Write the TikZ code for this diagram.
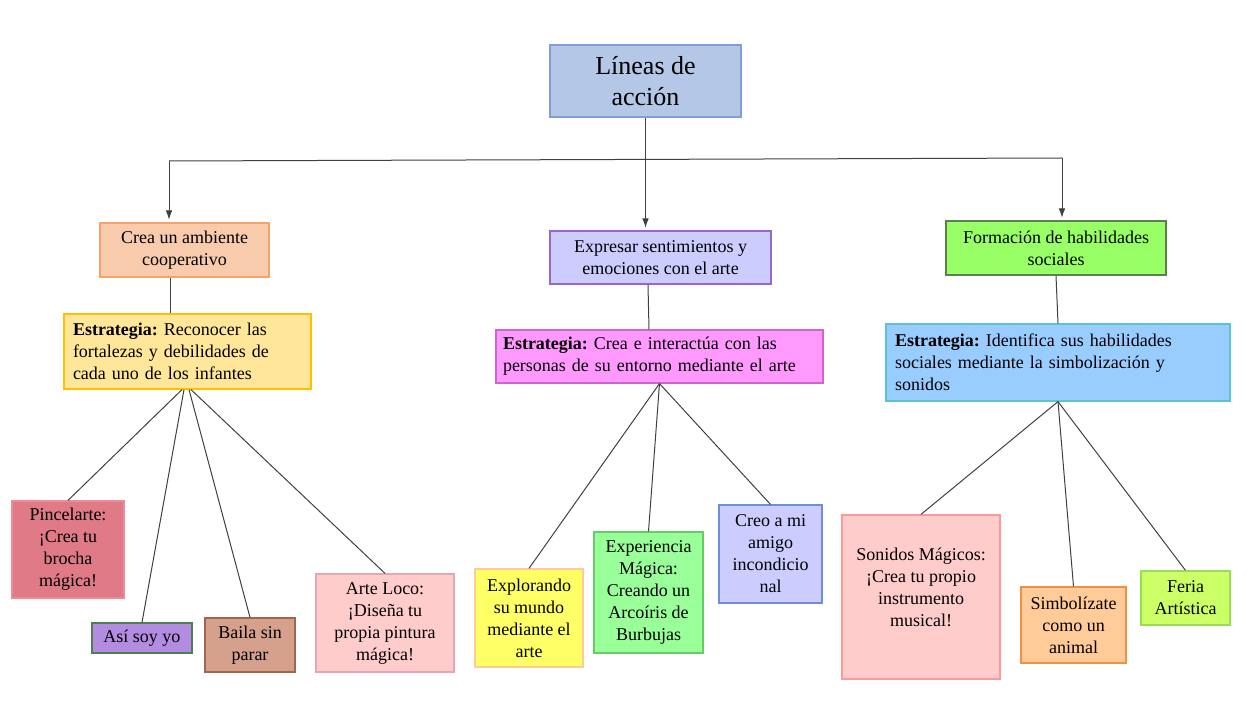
\documentclass[tikz,border=0pt]{standalone}
\usepackage{fontspec}
\setmainfont{Liberation Serif}
\usetikzlibrary{arrows.meta,calc}
\definecolor{titlefill}{HTML}{B4C7E7}\definecolor{titledraw}{HTML}{7F9FD6}
\definecolor{creafill}{HTML}{F8CBAD}\definecolor{creadraw}{HTML}{F4A36A}
\definecolor{exprfill}{HTML}{CCCCFF}\definecolor{exprdraw}{HTML}{9966CC}
\definecolor{formfill}{HTML}{99FF66}\definecolor{formdraw}{HTML}{5F7F4F}
\definecolor{saafill}{HTML}{FFE699}\definecolor{saadraw}{HTML}{FFC000}
\definecolor{sbbfill}{HTML}{FF99FF}\definecolor{sbbdraw}{HTML}{CC66CC}
\definecolor{sccfill}{HTML}{99CCFF}\definecolor{sccdraw}{HTML}{5FC2D0}
\definecolor{pinfill}{HTML}{E07A87}\definecolor{pindraw}{HTML}{F08A95}
\definecolor{asifill}{HTML}{B38BE0}\definecolor{asidraw}{HTML}{4F7F4F}
\definecolor{baifill}{HTML}{D5A18C}\definecolor{baidraw}{HTML}{A0674B}
\definecolor{artfill}{HTML}{FFCCCC}\definecolor{artdraw}{HTML}{E6A4B4}
\definecolor{expfill}{HTML}{FFFF66}\definecolor{expdraw}{HTML}{FFCC99}
\definecolor{exifill}{HTML}{99FF99}\definecolor{exidraw}{HTML}{66CC66}
\definecolor{creofill}{HTML}{CCCCFF}\definecolor{creodraw}{HTML}{6C8EDB}
\definecolor{sonfill}{HTML}{FFCCCC}\definecolor{sondraw}{HTML}{FF9999}
\definecolor{simfill}{HTML}{FFCC99}\definecolor{simdraw}{HTML}{F09040}
\definecolor{ferfill}{HTML}{CCFF66}\definecolor{ferdraw}{HTML}{99DD55}
\definecolor{linecol}{HTML}{404040}
\tikzset{
  bx/.style={draw, line width=0.9pt, inner sep=0pt, align=center,
    font=\fontsize{13.5pt}{16.5pt}\selectfont\frenchspacing, text=black},
  sbx/.style={bx, align=left},
  sz/.style 2 args={minimum width=#1*0.75pt, minimum height=#2*0.75pt},
  ln/.style={draw=linecol, line width=0.75pt},
  arr/.style={ln, -{Latex[length=7pt,width=5pt]}, shorten >=2pt}
}
\begin{document}
\begin{tikzpicture}[x=0.75pt,y=-0.75pt]
\useasboundingbox (0,0) rectangle (1247,702);
% title
\node[bx, fill=titlefill, draw=titledraw, sz={191}{72},
  font=\fontsize{19.5pt}{23.25pt}\selectfont] (title) at (645.5,81) {Líneas de\\acción};
% level 1
\node[bx, fill=creafill, draw=creadraw, sz={169}{54}] (crea) at (184.5,250) {Crea un ambiente\\cooperativo};
\node[bx, fill=exprfill, draw=exprdraw, sz={221}{53}] (expr) at (660.5,257.5) {Expresar sentimientos y\\emociones con el arte};
\node[bx, fill=formfill, draw=formdraw, sz={220}{54}] (form) at (1056,248) {Formación de habilidades\\sociales};
% strategies
\node[sbx, fill=saafill, draw=saadraw, sz={247}{75}, text width=229*0.75pt] (saa) at (187.5,351.5)
  {\textbf{Estrategia:} Reconocer las\\fortalezas y debilidades de\\cada uno de los infantes};
\node[sbx, fill=sbbfill, draw=sbbdraw, sz={327}{53}, text width=313*0.75pt] (sbb) at (659.5,356.5)
  {\textbf{Estrategia:} Crea e interactúa con las\\personas de su entorno mediante el arte};
\node[sbx, fill=sccfill, draw=sccdraw, sz={344}{77}, text width=326*0.75pt] (scc) at (1058,362.5)
  {\textbf{Estrategia:} Identifica sus habilidades\\sociales mediante la simbolización y\\sonidos};
% leaves left
\node[bx, fill=pinfill, draw=pindraw, sz={112}{97}] (pin) at (68,549.5) {Pincelarte:\\¡Crea tu\\brocha\\mágica!};
\node[bx, fill=asifill, draw=asidraw, sz={100}{30}] (asi) at (142,638) {Así soy yo};
\node[bx, fill=baifill, draw=baidraw, sz={90}{54}] (bai) at (250,645) {Baila sin\\parar};
\node[bx, fill=artfill, draw=artdraw, sz={138}{98}] (art) at (385,623) {Arte Loco:\\¡Diseña tu\\propia pintura\\mágica!};
% leaves middle
\node[bx, fill=expfill, draw=expdraw, sz={108}{98}] (exp) at (529,618) {Explorando\\su mundo\\mediante el\\arte};
\node[bx, fill=exifill, draw=exidraw, sz={109}{121}] (exi) at (648.5,592.5) {Experiencia\\Mágica:\\Creando un\\Arcoíris de\\Burbujas};
\node[bx, fill=creofill, draw=creodraw, sz={103}{98}] (creo) at (770.5,554) {Creo a mi\\amigo\\incondicio\\nal};
% leaves right
\node[bx, fill=sonfill, draw=sondraw, sz={158}{164}] (son) at (921,597) {};
\node[align=center, font=\fontsize{13.5pt}{16.5pt}\selectfont\frenchspacing] (sontxt) at (921,587)
  {Sonidos Mágicos:\\¡Crea tu propio\\instrumento\\musical!};
\node[bx, fill=simfill, draw=simdraw, sz={105}{76}] (sim) at (1073.5,625) {Simbolízate\\como un\\animal};
\node[bx, fill=ferfill, draw=ferdraw, sz={89}{54}] (fer) at (1185.5,598) {Feria\\Artística};
% top connectors
\coordinate (hl) at (169,161);
\coordinate (hr) at (1062,158);
\draw[ln] (hl) -- (hr);
\draw[arr] (hl) -- (hl |- crea.north);
\draw[arr] (hr) -- (hr |- form.north);
\draw[arr] (title.south) -- (title.south |- expr.north);
% level1 to strategies
\draw[ln] ($(crea.south)+(-14.5,0)$) -- ($(saa.north)+(-17.5,0)$);
\draw[ln] ($(expr.south)+(-12.5,0)$) -- ($(sbb.north)+(-10.5,0)$);
\draw[ln] (form.south) -- (scc.north);
% strategies to leaves
\draw[ln] ($(saa.south)+(-5.5,0)$) -- (pin.north);
\draw[ln] ($(saa.south)+(-3.5,0)$) -- (asi.north);
\draw[ln] ($(saa.south)+(1.5,0)$) -- (bai.north);
\draw[ln] ($(saa.south)+(3.5,0)$) -- (art.north);
\draw[ln] (sbb.south) -- (exp.north);
\draw[ln] (sbb.south) -- (exi.north);
\draw[ln] (sbb.south) -- (creo.north);
\draw[ln] (scc.south) -- (son.north);
\draw[ln] (scc.south) -- (sim.north);
\draw[ln] (scc.south) -- (fer.north);
\end{tikzpicture}
\end{document}
